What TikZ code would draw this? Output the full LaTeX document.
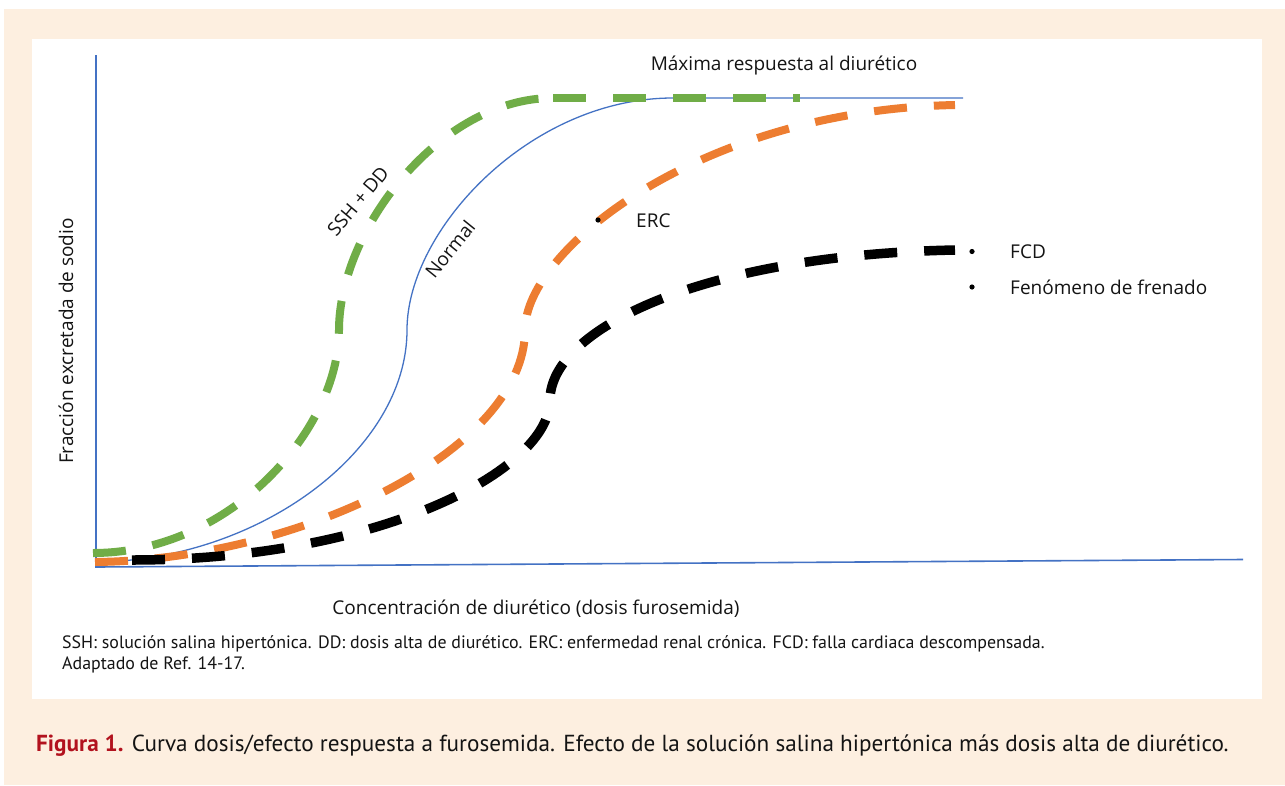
\documentclass[tikz,border=0pt]{standalone}
\usepackage{fontspec}
\setmainfont{Open Sans}
\newfontfamily\capfont{PT Sans}
\definecolor{peach}{RGB}{253,239,224}
\definecolor{axblue}{HTML}{4472C4}
\definecolor{cgreen}{HTML}{70AD47}
\definecolor{corange}{HTML}{ED7D31}
\definecolor{capred}{RGB}{178,18,30}
\definecolor{txt}{RGB}{20,20,20}
\begin{document}
\begin{tikzpicture}[x=1pt,y=-1pt,
  lbl/.style={inner sep=0pt, text=txt, font=\fontsize{19}{22}\selectfont},
  foot/.style={inner sep=0pt, text=txt, font=\capfont\fontsize{17.9}{20}\selectfont, anchor=base west},
  axis/.style={axblue, line width=1.6pt},
  curvedash/.style={dash pattern=on 33pt off 27pt, line cap=butt},
  dotm/.style={fill=black}]
\path[use as bounding box] (0,0) rectangle (1285,785);
\fill[peach] (4,9) rectangle (1285,785);
\fill[white] (32,39) rectangle (1262,699);
% axes
\coordinate (O) at (96,567);
\coordinate (ytop) at (96,55);
\coordinate (xend) at (1243,559.5);
\draw[axis] (ytop) -- (O) -- (xend);
% normal curve + maximum response line
\draw[axblue, line width=1.3pt] (97,562) .. controls (260,560) and (407,450) .. (407,330)
  .. controls (407,230) and (530,98) .. (673,98) -- (963,98);
% green SSH + DD
\coordinate (gtop) at (553,98);
\coordinate (gend) at (800,98);
\draw[cgreen, line width=8pt, curvedash] (93,553) .. controls (230,553) and (339,430) .. (339,330)
  .. controls (339,230) and (440,98) .. (gtop);
\draw[cgreen, line width=8pt, curvedash] (gtop) -- (gend);
% orange ERC
\draw[corange, line width=8pt, curvedash] (95,562) .. controls (300,560) and (525,450) .. (525,330)
  .. controls (525,250) and (700,110) .. (955,105);
% black FCD
\draw[black, line width=9.5pt, curvedash] (132,560) .. controls (380,560) and (550,470) .. (550,400)
  .. controls (550,330) and (700,255) .. (955,250);
% labels
\node[lbl, anchor=base] (maxr) at (784,70.5) {Máxima respuesta al diurético};
\node[lbl, rotate=50] (ssh) at (358,201) {SSH + DD};
\node[lbl, rotate=51] (norm) at (450,249) {Normal};
\fill[dotm] (598,220) circle (2.6);
\node[lbl, anchor=base west] (erc) at (636,227.3) {ERC};
\fill[dotm] (972,251.5) circle (2.6);
\node[lbl, anchor=base west] (fcd) at (1010,258.3) {FCD};
\fill[dotm] (972,287) circle (2.6);
\node[lbl, anchor=base west] (fen) at (1010,294) {Fenómeno de frenado};
\node[lbl, anchor=base] (xl) at (536,614) {Concentración de diurético (dosis furosemida)};
\node[lbl, anchor=base, rotate=90] (yl) at (73,341) {Fracción excretada de sodio};
% footnote
\node[foot] (fn1) at (62,648.3) {SSH: solución salina hipertónica. DD: dosis alta de diurético. ERC: enfermedad renal crónica. FCD: falla cardiaca descompensada.};
\node[foot] (fn2) at (62,669) {Adaptado de Ref. 14-17.};
% caption
\node[inner sep=0pt, anchor=base west, font=\capfont\fontsize{23.2}{26}\selectfont, text=txt] (cap) at (36,751) {\textcolor{capred}{\bfseries Figura 1.} Curva dosis/efecto respuesta a furosemida. Efecto de la solución salina hipertónica más dosis alta de diurético.};
\end{tikzpicture}
\end{document}
